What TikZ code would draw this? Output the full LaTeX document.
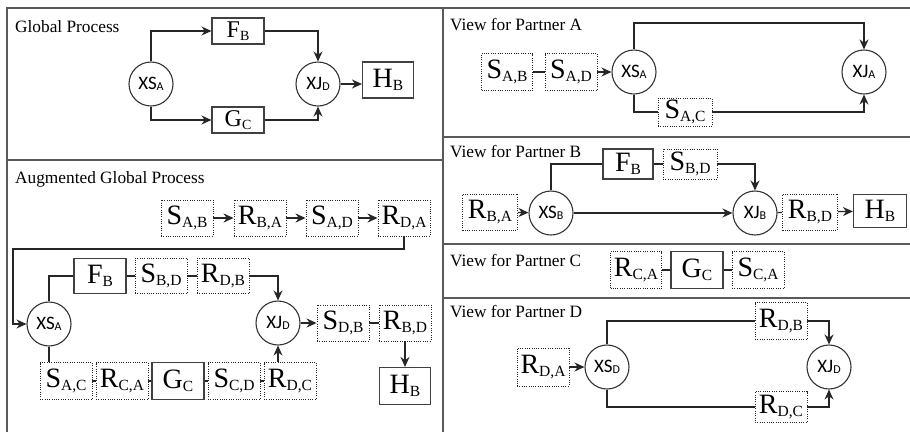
\documentclass[tikz,border=0pt]{standalone}
\usepackage{fontspec}
\setmainfont{Liberation Serif}
\newfontfamily\gwfont{Carlito}
\usetikzlibrary{arrows.meta}
\definecolor{panelgray}{HTML}{5A5A5A}
\definecolor{linegray}{HTML}{262626}
\newcommand\actlbl[3][15.5]{#2\raisebox{-2.5pt}{\fontsize{#1}{#1}\selectfont #3}}
\newcommand\gwlbl[2]{#1\raisebox{-1pt}{\fontsize{12}{13}\selectfont #2}}

\begin{document}
\begin{tikzpicture}[x=1pt, y=-1pt, >={Stealth[length=10pt,width=9pt]},
    panel/.style={draw=panelgray, line width=1.5pt},
    paneltitle/.style={anchor=base west, inner sep=0pt, font=\fontsize{17.3}{20}\selectfont},
    act/.style={draw=black!75, line width=1.1pt, minimum width=52pt, minimum height=36pt, inner sep=0pt, font=\fontsize{28}{30}\selectfont},
    msg/.style={act, draw=black!85, line width=0.9pt, dash pattern=on 1pt off 1.3pt},
    gw/.style={circle, draw=black!80, line width=1.1pt, minimum size=44pt, inner sep=0pt, font=\gwfont\fontsize{19}{20}\selectfont},
    conn/.style={draw=linegray, line width=1.3pt}]

\useasboundingbox (0,0) rectangle (910,432);

% panels
\draw[panel] (7,432) -- (7,8) -- (910,8);
\draw[panel] (443,8) -- (443,432);
\draw[panel] (7,160) -- (443,160);
\draw[panel] (443,137) -- (910,137);
\draw[panel] (443,244) -- (910,244);
\draw[panel] (443,298) -- (910,298);

% global process
\node[paneltitle] (tGlobal) at (15,32) {Global Process};
\node[gw] (XSA1) at (151,84) {\gwlbl{XS}{A}};
\node[act, minimum height=26pt, font=\fontsize{24}{26}\selectfont] (FB1) at (238,31) {\actlbl[14]{F}{B}};
\node[act, minimum height=26pt, font=\fontsize{24}{26}\selectfont] (GC1) at (238,120) {\actlbl[14]{G}{C}};
\node[gw] (XJD1) at (318,84) {\gwlbl{XJ}{D}};
\node[act, minimum width=51pt] (HB1) at (388,80) {\actlbl{H}{B}};
\draw[conn, ->] (XSA1.north) |- (FB1.west);
\draw[conn, ->] (FB1.east) -| (XJD1.north);
\draw[conn, ->] (XSA1.south) |- (GC1.west);
\draw[conn, ->] (GC1.east) -| (XJD1.south);
\draw[conn, ->] (XJD1.east) -- (XJD1.east -| HB1.west);

% augmented global process
\node[paneltitle] (tAug) at (15,183) {Augmented Global Process};
\node[msg] (SAB2) at (187,218) {\actlbl{S}{A,B}};
\node[msg] (RBA2) at (260,218) {\actlbl{R}{B,A}};
\node[msg] (SAD2) at (332,218) {\actlbl{S}{A,D}};
\node[msg] (RDA2) at (404,218) {\actlbl{R}{D,A}};
\node[gw] (XSA2) at (49,324) {\gwlbl{XS}{A}};
\node[act, minimum height=35pt] (FB2) at (100,276) {\actlbl{F}{B}};
\node[msg, minimum height=35pt] (SBD2) at (161,276) {\actlbl{S}{B,D}};
\node[msg, minimum height=35pt] (RDB2) at (223,276) {\actlbl{R}{D,B}};
\node[gw] (XJD2) at (278,323) {\gwlbl{XJ}{D}};
\node[msg] (SDB2) at (343,323) {\actlbl{S}{D,B}};
\node[msg] (RBD2) at (405,323) {\actlbl{R}{B,D}};
\node[act, minimum width=51pt, minimum height=37pt] (HB2) at (405,386) {\actlbl{H}{B}};
\node[msg, minimum height=37pt] (SAC2) at (66,381) {\actlbl{S}{A,C}};
\node[msg, minimum height=37pt] (RCA2) at (122,381) {\actlbl{R}{C,A}};
\node[act, minimum height=37pt] (GC2) at (178,381) {\actlbl{G}{C}};
\node[msg, minimum height=37pt] (SCD2) at (234,381) {\actlbl{S}{C,D}};
\node[msg, minimum height=37pt] (RDC2) at (290,381) {\actlbl{R}{D,C}};
\coordinate (bendAug) at (13,249);
\draw[conn, ->] (SAB2) -- (RBA2);
\draw[conn, ->] (RBA2) -- (SAD2);
\draw[conn, ->] (SAD2) -- (RDA2);
\draw[conn, ->] (RDA2.south) |- (bendAug) |- (XSA2.west);
\draw[conn] (XSA2.north) |- (FB2.west);
\draw[conn] (FB2) -- (SBD2);
\draw[conn] (SBD2) -- (RDB2);
\draw[conn, ->] (RDB2.east) -| (XJD2.north);
\draw[conn, ->] (XJD2) -- (SDB2);
\draw[conn] (SDB2) -- (RBD2);
\draw[conn, ->] (RBD2) -- (HB2);
\draw[conn] (XSA2.south) -- (XSA2.south |- SAC2.north);
\draw[conn] (SAC2) -- (RCA2);
\draw[conn] (RCA2) -- (GC2);
\draw[conn] (GC2) -- (SCD2);
\draw[conn] (SCD2) -- (RDC2);
\draw[conn, ->] (XJD2.south |- RDC2.north) -- (XJD2.south);

% view for partner A
\node[paneltitle] (tPartA) at (450,30) {View for Partner A};
\node[msg, minimum width=51pt, minimum height=37pt] (SAB3) at (507,72) {\actlbl{S}{A,B}};
\node[msg, minimum height=37pt] (SAD3) at (571,72) {\actlbl{S}{A,D}};
\node[gw] (XSA3) at (634,72) {\gwlbl{XS}{A}};
\node[gw] (XJA3) at (864,72) {\gwlbl{XJ}{A}};
\node[msg, minimum width=54pt, minimum height=28pt] (SAC3) at (685,112) {\actlbl{S}{A,C}};
\coordinate (bendA) at (864,23);
\draw[conn] (SAB3) -- (SAD3);
\draw[conn, ->] (SAD3) -- (XSA3);
\draw[conn, ->] (XSA3.north) |- (bendA) -- (XJA3.north);
\draw[conn] (XSA3.south) |- (SAC3.west);
\draw[conn, ->] (SAC3.east) -| (XJA3.south);

% view for partner B
\node[paneltitle] (tPartB) at (450,157) {View for Partner B};
\node[act, minimum width=50pt, minimum height=30pt] (FB4) at (628,164) {\actlbl{F}{B}};
\node[msg, minimum width=54pt, minimum height=30pt] (SBD4) at (690,164) {\actlbl{S}{B,D}};
\node[msg, minimum width=55pt] (RBA4) at (490,212) {\actlbl{R}{B,A}};
\node[gw] (XSB4) at (551,213) {\gwlbl{XS}{B}};
\node[gw] (XJB4) at (755,213) {\gwlbl{XJ}{B}};
\node[msg, minimum width=55pt] (RBD4) at (810,212) {\actlbl{R}{B,D}};
\node[act, minimum width=53pt, minimum height=33pt] (HB4) at (880,211) {\actlbl{H}{B}};
\draw[conn, ->] (RBA4) -- (XSB4);
\draw[conn] (XSB4.north) |- (FB4.west);
\draw[conn] (FB4) -- (SBD4);
\draw[conn, ->] (SBD4.east) -| (XJB4.north);
\draw[conn, ->] (XSB4) -- (XJB4);
\draw[conn] (XJB4) -- (RBD4);
\draw[conn, ->] (RBD4) -- (HB4);

% view for partner C
\node[paneltitle] (tPartC) at (450,266) {View for Partner C};
\node[msg, minimum width=51pt, minimum height=37pt] (RCA5) at (636,270) {\actlbl{R}{C,A}};
\node[act, minimum height=37pt] (GC5) at (697,270) {\actlbl{G}{C}};
\node[msg, minimum height=37pt] (SCA5) at (758,270) {\actlbl{S}{C,A}};
\draw[conn] (RCA5) -- (GC5);
\draw[conn] (GC5) -- (SCA5);

% view for partner D
\node[paneltitle] (tPartD) at (450,317) {View for Partner D};
\node[msg, minimum height=38pt] (RDA6) at (543,367) {\actlbl{R}{D,A}};
\node[gw] (XSD6) at (607,367) {\gwlbl{XS}{D}};
\node[gw] (XJD6) at (829,367) {\gwlbl{XJ}{D}};
\node[msg, minimum height=37pt] (RDB6) at (781,321) {\actlbl{R}{D,B}};
\node[msg, minimum height=31pt] (RDC6) at (781,407) {\actlbl{R}{D,C}};
\draw[conn, ->] (RDA6) -- (XSD6);
\draw[conn] (XSD6.north) |- (RDB6.west);
\draw[conn, ->] (RDB6.east) -| (XJD6.north);
\draw[conn] (XSD6.south) |- (RDC6.west);
\draw[conn, ->] (RDC6.east) -| (XJD6.south);
\end{tikzpicture}
\end{document}
